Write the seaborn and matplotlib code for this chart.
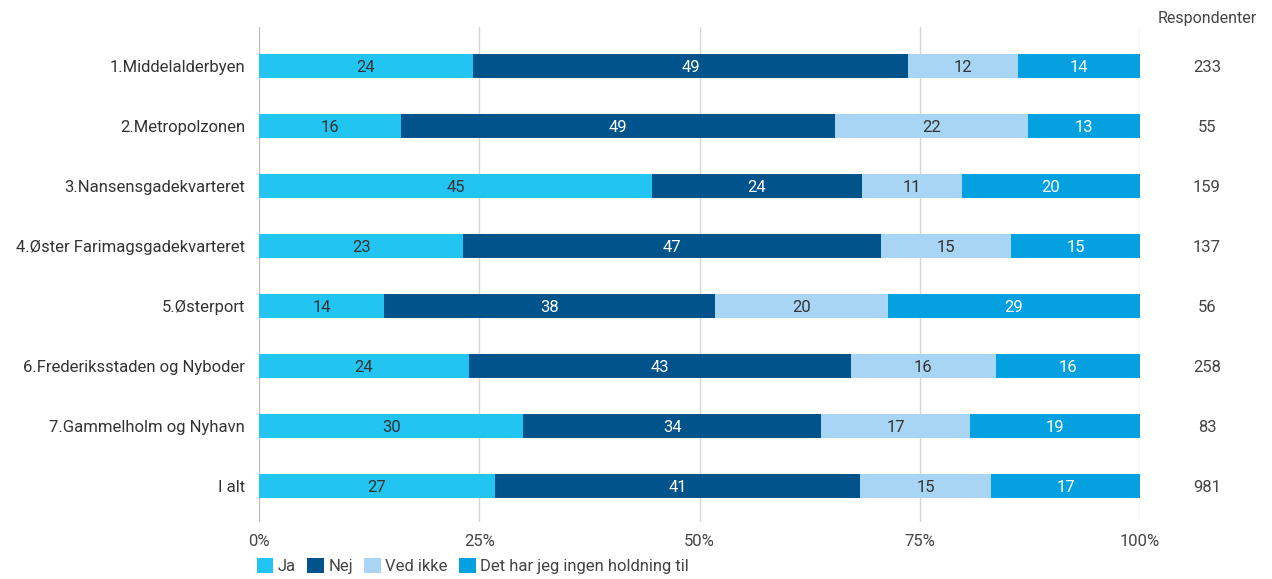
import matplotlib
matplotlib.use("Agg")
import matplotlib.pyplot as plt
from matplotlib.patches import Patch
import seaborn as sns
import pandas as pd
import numpy as np

categories = ["1.Middelalderbyen", "2.Metropolzonen", "3.Nansensgadekvarteret",
              "4.Øster Farimagsgadekvarteret", "5.Østerport",
              "6.Frederiksstaden og Nyboder", "7.Gammelholm og Nyhavn", "I alt"]
series_names = ["Ja", "Nej", "Ved ikke", "Det har jeg ingen holdning til"]
ja = [24.3, 16.1, 44.6, 23.2, 14.2, 23.8, 30.0, 26.8]
nej = [49.4, 49.3, 23.8, 47.4, 37.6, 43.4, 33.8, 41.4]
ved_ikke = [12.4, 21.9, 11.4, 14.8, 19.6, 16.4, 16.9, 14.9]
ingen = [13.9, 12.7, 20.2, 14.6, 28.6, 16.4, 19.3, 16.9]
respondenter = [233, 55, 159, 137, 56, 258, 83, 981]
x_ticks = [0, 25, 50, 75, 100]
x_tick_labels = ["0%", "25%", "50%", "75%", "100%"]

colors = ["#22c4f2", "#01548b", "#a9d5f5", "#05a0e0"]
label_colors = ["#333333", "#ffffff", "#333333", "#ffffff"]

sns.set_theme(style="white")
plt.rcParams["font.family"] = ["Roboto", "DejaVu Sans"]

FS = 12

fig = plt.figure(figsize=(12.72, 5.79), dpi=100)
ax = fig.add_axes([259/1272, 1-522/579, (1140-259)/1272, (522-27)/579])

series = [ja, nej, ved_ikke, ingen]
cum = np.cumsum(np.array(series), axis=0)
# draw from the outermost cumulative to innermost
for i in range(3, -1, -1):
    df = pd.DataFrame({"cat": categories, "val": cum[i]})
    sns.barplot(data=df, y="cat", x="val", orient="h", color=colors[i],
                width=0.4, saturation=1, ax=ax, linewidth=0, zorder=3)

# value labels
for i in range(4):
    starts = cum[i] - np.array(series[i])
    for j, v in enumerate(series[i]):
        ax.text(starts[j] + v/2, j + 0.02, f"{round(v):d}", ha="center", va="center",
                fontsize=FS, color=label_colors[i], zorder=5)

# respondent counts
for j, n in enumerate(respondenter):
    ax.text(107.6, j + 0.02, str(n), ha="center", va="center", fontsize=FS,
            color="#444444", clip_on=False)
ax.text(107.6, -0.67, "Respondenter", ha="center", va="bottom",
        fontsize=11.5, color="#444444", clip_on=False)

ax.set_xlim(0, 100)
ax.set_ylim(7.6, -0.65)
ax.set_xticks(x_ticks)
ax.set_xticklabels(x_tick_labels, fontsize=FS, color="#444444")
ax.tick_params(axis="y", labelsize=FS, labelcolor="#333333", length=0, pad=10)
ax.tick_params(axis="x", length=0, pad=9)
ax.set_xlabel("")
ax.set_ylabel("")
for s in ax.spines.values():
    s.set_visible(False)
ax.grid(False)
for t in x_ticks:
    ax.axvline(t, color="#bbbbbb" if t == 0 else "#d6d6d6",
               lw=1.6 if t == 0 else 1.0, zorder=1)

handles = [Patch(facecolor=c, edgecolor="none") for c in colors]
fig.legend(handles, series_names, loc="center left",
           bbox_to_anchor=(250/1272, 1-566/579), ncol=4, frameon=False,
           fontsize=FS, handlelength=1.0, handleheight=1.0, handletextpad=0.25,
           columnspacing=0.7, labelcolor="#444444", borderaxespad=0)

fig.savefig("out.png", dpi=100)
